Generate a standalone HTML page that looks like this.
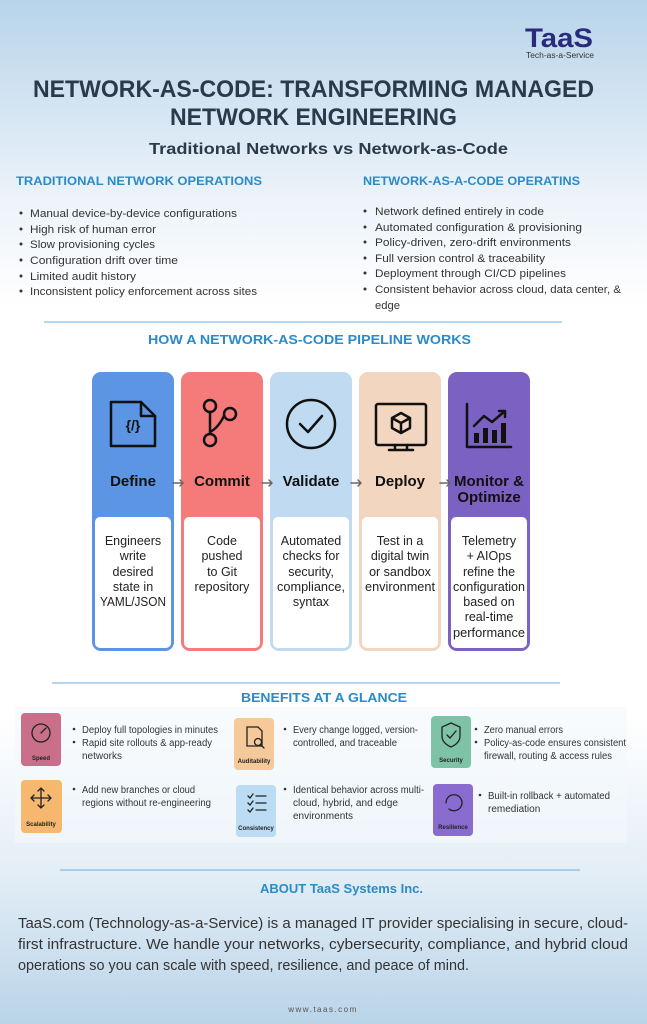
<!DOCTYPE html>
<html><head><meta charset="utf-8"><style>
html,body{margin:0;padding:0;width:647px;height:1024px;overflow:hidden}
svg{display:block}
text{font-family:"Liberation Sans",sans-serif}
</style></head><body>
<svg width="647" height="1024" viewBox="0 0 647 1024" xmlns="http://www.w3.org/2000/svg">
<defs>
<linearGradient id="bg" x1="0" y1="0" x2="0" y2="1">
<stop offset="0" stop-color="#b7d4ea"/>
<stop offset="0.2" stop-color="#eef4fa"/>
<stop offset="0.3" stop-color="#ffffff"/>
<stop offset="0.7" stop-color="#ffffff"/>
<stop offset="0.85" stop-color="#e4eef6"/>
<stop offset="1" stop-color="#b9d4e8"/>
</linearGradient>
</defs>
<rect width="647" height="1024" fill="url(#bg)"/>

<!-- logo -->
<text x="525" y="47" font-size="27" font-weight="bold" fill="#2c2a7c" textLength="68" lengthAdjust="spacingAndGlyphs">TaaS</text>
<text x="526" y="58" font-size="8" fill="#333" textLength="68" lengthAdjust="spacingAndGlyphs">Tech-as-a-Service</text>

<!-- title -->
<g fill="#2b3a4a" font-weight="bold">
<text x="33" y="97" font-size="24" textLength="561" lengthAdjust="spacingAndGlyphs">NETWORK-AS-CODE: TRANSFORMING MANAGED</text>
<text x="170" y="125" font-size="24" textLength="287" lengthAdjust="spacingAndGlyphs">NETWORK ENGINEERING</text>
<text x="149" y="154" font-size="16" textLength="359" lengthAdjust="spacingAndGlyphs">Traditional Networks vs Network-as-Code</text>
</g>
<g fill="#2a8bc8" font-weight="bold" font-size="12">
<text x="16" y="185" textLength="246" lengthAdjust="spacingAndGlyphs">TRADITIONAL NETWORK OPERATIONS</text>
<text x="363" y="185" textLength="217" lengthAdjust="spacingAndGlyphs">NETWORK-AS-A-CODE OPERATINS</text>
</g>
<g fill="#333" font-size="11">
<text x="30" y="217" textLength="207" lengthAdjust="spacingAndGlyphs">Manual device-by-device configurations</text>
<text x="30" y="233" textLength="126" lengthAdjust="spacingAndGlyphs">High risk of human error</text>
<text x="30" y="248" textLength="125" lengthAdjust="spacingAndGlyphs">Slow provisioning cycles</text>
<text x="30" y="264" textLength="148" lengthAdjust="spacingAndGlyphs">Configuration drift over time</text>
<text x="30" y="280" textLength="106" lengthAdjust="spacingAndGlyphs">Limited audit history</text>
<text x="30" y="295" textLength="227" lengthAdjust="spacingAndGlyphs">Inconsistent policy enforcement across sites</text>
<text x="375" y="215" textLength="169" lengthAdjust="spacingAndGlyphs">Network defined entirely in code</text>
<text x="375" y="231" textLength="207" lengthAdjust="spacingAndGlyphs">Automated configuration &amp; provisioning</text>
<text x="375" y="246" textLength="196" lengthAdjust="spacingAndGlyphs">Policy-driven, zero-drift environments</text>
<text x="375" y="262" textLength="170" lengthAdjust="spacingAndGlyphs">Full version control &amp; traceability</text>
<text x="375" y="277" textLength="191" lengthAdjust="spacingAndGlyphs">Deployment through CI/CD pipelines</text>
<text x="375" y="293" textLength="246" lengthAdjust="spacingAndGlyphs">Consistent behavior across cloud, data center, &amp;</text>
<text x="375" y="309" textLength="25" lengthAdjust="spacingAndGlyphs">edge</text>
</g>
<g fill="#333">
<circle cx="21" cy="213" r="1.5"/><circle cx="21" cy="229" r="1.5"/><circle cx="21" cy="244" r="1.5"/><circle cx="21" cy="260" r="1.5"/><circle cx="21" cy="276" r="1.5"/><circle cx="21" cy="291" r="1.5"/>
<circle cx="365" cy="211" r="1.5"/><circle cx="365" cy="227" r="1.5"/><circle cx="365" cy="242" r="1.5"/><circle cx="365" cy="258" r="1.5"/><circle cx="365" cy="273" r="1.5"/><circle cx="365" cy="289" r="1.5"/>
</g>
<line x1="44" y1="322" x2="562" y2="322" stroke="#6aaee0" stroke-width="1"/>
<text x="148" y="344" font-size="13" font-weight="bold" fill="#2a8bc8" textLength="323" lengthAdjust="spacingAndGlyphs">HOW A NETWORK-AS-CODE PIPELINE WORKS</text>

<!-- pipeline cards -->
<g>
<rect x="92" y="372" width="82" height="279" rx="9" fill="#5b95e3"/>
<rect x="181" y="372" width="82" height="279" rx="9" fill="#f57b7b"/>
<rect x="270" y="372" width="82" height="279" rx="9" fill="#bfdaf1"/>
<rect x="359" y="372" width="82" height="279" rx="9" fill="#f3d6c0"/>
<rect x="448" y="372" width="82" height="279" rx="9" fill="#7b61c2"/>
<g fill="#fff">
<rect x="95" y="517" width="76" height="131" rx="5"/>
<rect x="184" y="517" width="76" height="131" rx="5"/>
<rect x="273" y="517" width="76" height="131" rx="5"/>
<rect x="362" y="517" width="76" height="131" rx="5"/>
<rect x="451" y="517" width="76" height="131" rx="5"/>
</g>
</g>
<!-- icons -->
<g fill="none" stroke="#111" stroke-width="2.5" stroke-linejoin="round" stroke-linecap="round">
<path d="M111 402 H141 L155 416 V446 H111 Z"/><path d="M141 402 V416 H155"/>
<circle cx="210" cy="406" r="6"/><circle cx="210" cy="440" r="6"/><circle cx="230" cy="414" r="6"/><path d="M210 412 V434 M224 416 Q218 428 210 432"/>
<circle cx="311" cy="424" r="24"/><path d="M300 424 L308 432 L322 416"/>
<rect x="376" y="404" width="50" height="41" rx="2"/><path d="M395 445 V450 M407 445 V450 M389 450 H413"/>
<path d="M401 413 L410 418 V428 L401 433 L392 428 V418 Z M392 418 L401 423 L410 418 M401 423 V433"/>
<path d="M467 404 V447 H511"/><path d="M474 426 L484 416 L492 422 L505 411 M499 411 H505 V417"/>
</g>
<text x="133" y="430" font-size="14" font-weight="bold" fill="#111" text-anchor="middle">{/}</text>
<g fill="#111"><rect x="474" y="433" width="5" height="10"/><rect x="483" y="428" width="5" height="15"/><rect x="492" y="430" width="5" height="13"/><rect x="501" y="423" width="5" height="20"/></g>
<g font-size="15" font-weight="bold" fill="#111" text-anchor="middle">
<text x="133" y="486">Define</text>
<text x="222" y="486">Commit</text>
<text x="311" y="486">Validate</text>
<text x="400" y="486">Deploy</text>
<text x="489" y="486">Monitor &amp;</text>
<text x="489" y="502">Optimize</text>
</g>
<g fill="none" stroke="#666" stroke-width="1.5" stroke-linecap="round" stroke-linejoin="round">
<path d="M173 483 H183 M180 480 L183 483 L180 486"/>
<path d="M262 483 H272 M269 480 L272 483 L269 486"/>
<path d="M351 483 H361 M358 480 L361 483 L358 486"/>
<path d="M440 483 H450 M447 480 L450 483 L447 486"/>
</g>
<g font-size="12.5" fill="#222" text-anchor="middle">
<text x="133" y="545">Engineers</text><text x="133" y="560">write</text><text x="133" y="576">desired</text><text x="133" y="591">state in</text><text x="133" y="606" textLength="66" lengthAdjust="spacingAndGlyphs">YAML/JSON</text>
<text x="222" y="545">Code</text><text x="222" y="560">pushed</text><text x="222" y="576">to Git</text><text x="222" y="591">repository</text>
<text x="311" y="545">Automated</text><text x="311" y="560">checks for</text><text x="311" y="576">security,</text><text x="311" y="591" textLength="68" lengthAdjust="spacingAndGlyphs">compliance,</text><text x="311" y="606">syntax</text>
<text x="400" y="545">Test in a</text><text x="400" y="560">digital twin</text><text x="400" y="576">or sandbox</text><text x="400" y="591" textLength="70" lengthAdjust="spacingAndGlyphs">environment</text>
<text x="489" y="545">Telemetry</text><text x="489" y="560">+ AIOps</text><text x="489" y="576">refine the</text><text x="489" y="591" textLength="72" lengthAdjust="spacingAndGlyphs">configuration</text><text x="489" y="606">based on</text><text x="489" y="621">real-time</text><text x="489" y="637" textLength="72" lengthAdjust="spacingAndGlyphs">performance</text>
</g>

<line x1="52" y1="683" x2="560" y2="683" stroke="#6aaee0" stroke-width="1"/>
<text x="241" y="702" font-size="13" font-weight="bold" fill="#2a8bc8" textLength="166" lengthAdjust="spacingAndGlyphs">BENEFITS AT A GLANCE</text>

<rect x="15" y="707" width="612" height="136" fill="#f4f8fb" opacity="0.6"/>
<g>
<rect x="21" y="713" width="40" height="53" rx="4" fill="#c96f8a"/>
<rect x="234" y="718" width="40" height="52" rx="4" fill="#f6c99a"/>
<rect x="431" y="716" width="40" height="52" rx="4" fill="#7ec3a7"/>
<rect x="21" y="780" width="41" height="53" rx="4" fill="#f5b86e"/>
<rect x="236" y="785" width="40" height="52" rx="4" fill="#bcdcf3"/>
<rect x="433" y="784" width="40" height="52" rx="4" fill="#8a6cd0"/>
</g>
<g fill="none" stroke="#222" stroke-width="1.3" stroke-linecap="round">
<circle cx="41" cy="733" r="9"/><path d="M41 733 L46 728"/>
<path d="M247 727 H258 L262 731 V746 H247 Z"/><circle cx="258" cy="742" r="3.5"/><path d="M261 745 L264 748"/>
<path d="M451 723 L460 727 V736 Q460 743 451 747 Q442 743 442 736 V727 Z"/><path d="M447 735 L450 738 L456 731"/>
<path d="M41 788 V808 M31 798 H51 M38 791 L41 788 L44 791 M38 805 L41 808 L44 805 M34 795 L31 798 L34 801 M48 795 L51 798 L48 801"/>
<path d="M248 796 L250 798 L253 794 M248 803 L250 805 L253 801 M248 810 L250 812 L253 808 M256 796 H266 M256 803 H266 M256 810 H266"/>
<path d="M446 803 A8 8 0 1 1 449 809"/>
</g>
<g font-size="6" font-weight="bold" fill="#222" text-anchor="middle">
<text x="41" y="760">Speed</text><text x="254" y="763">Auditability</text><text x="451" y="762">Security</text>
<text x="41" y="826">Scalability</text><text x="256" y="830">Consistency</text><text x="453" y="829">Resilience</text>
</g>
<g font-size="10" fill="#333">
<text x="82" y="733" textLength="136" lengthAdjust="spacingAndGlyphs">Deploy full topologies in minutes</text>
<text x="82" y="746" textLength="130" lengthAdjust="spacingAndGlyphs">Rapid site rollouts &amp; app-ready</text>
<text x="82" y="759">networks</text>
<text x="293" y="733" textLength="125" lengthAdjust="spacingAndGlyphs">Every change logged, version-</text>
<text x="293" y="746" textLength="104" lengthAdjust="spacingAndGlyphs">controlled, and traceable</text>
<text x="484" y="733" textLength="79" lengthAdjust="spacingAndGlyphs">Zero manual errors</text>
<text x="484" y="746" textLength="142" lengthAdjust="spacingAndGlyphs">Policy-as-code ensures consistent</text>
<text x="484" y="759" textLength="128" lengthAdjust="spacingAndGlyphs">firewall, routing &amp; access rules</text>
<text x="82" y="793" textLength="113" lengthAdjust="spacingAndGlyphs">Add new branches or cloud</text>
<text x="82" y="806" textLength="129" lengthAdjust="spacingAndGlyphs">regions without re-engineering</text>
<text x="293" y="793" textLength="131" lengthAdjust="spacingAndGlyphs">Identical behavior across multi-</text>
<text x="293" y="806" textLength="105" lengthAdjust="spacingAndGlyphs">cloud, hybrid, and edge</text>
<text x="293" y="819">environments</text>
<text x="488" y="799" textLength="122" lengthAdjust="spacingAndGlyphs">Built-in rollback + automated</text>
<text x="488" y="812">remediation</text>
</g>
<g fill="#333">
<circle cx="74" cy="729" r="1.3"/><circle cx="74" cy="742" r="1.3"/><circle cx="285" cy="729" r="1.3"/><circle cx="476" cy="729" r="1.3"/><circle cx="476" cy="742" r="1.3"/><circle cx="74" cy="789" r="1.3"/><circle cx="285" cy="789" r="1.3"/><circle cx="480" cy="795" r="1.3"/>
</g>

<line x1="60" y1="870" x2="580" y2="870" stroke="#6aaee0" stroke-width="1"/>
<text x="260" y="893" font-size="13" font-weight="bold" fill="#2a8bc8" textLength="163" lengthAdjust="spacingAndGlyphs">ABOUT TaaS Systems Inc.</text>
<g font-size="15" fill="#333">
<text x="18" y="928" textLength="610" lengthAdjust="spacingAndGlyphs">TaaS.com (Technology-as-a-Service) is a managed IT provider specialising in secure, cloud-</text>
<text x="18" y="949" textLength="610" lengthAdjust="spacingAndGlyphs">first infrastructure. We handle your networks, cybersecurity, compliance, and hybrid cloud</text>
<text x="18" y="970" textLength="451" lengthAdjust="spacingAndGlyphs">operations so you can scale with speed, resilience, and peace of mind.</text>
</g>
<text x="323" y="1012" font-size="8" fill="#555" text-anchor="middle" letter-spacing="1.5">www.taas.com</text>
</svg>
</body></html>
